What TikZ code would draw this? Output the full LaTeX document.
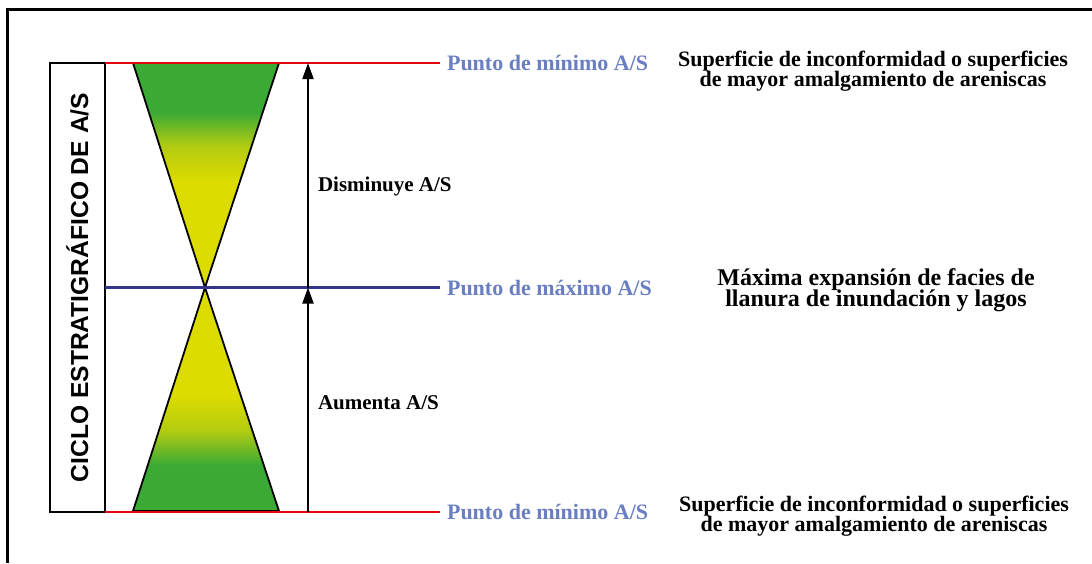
\documentclass[tikz,border=0pt]{standalone}
\usepackage{fontspec}
\setmainfont{Liberation Serif}
\setsansfont{Liberation Sans}
\usetikzlibrary{arrows.meta}
\definecolor{verde}{HTML}{3AAA35}
\definecolor{amarillo}{HTML}{DCDC00}
\definecolor{oliva}{HTML}{B5CC10}
\definecolor{rojo}{HTML}{E30613}
\definecolor{azul}{HTML}{35358A}
\definecolor{lila}{HTML}{6A7EC2}
\newcommand{\apretado}{\lineskiplimit=-20pt\relax}
\tikzset{
  marco/.style={line width=1.5pt},
  nivelmin/.style={rojo, line width=1.4pt},
  nivelmax/.style={azul, line width=1.1pt},
  abanico/.style={draw=black, line width=0.9pt},
  flecha/.style={line width=1pt, -{Triangle[length=8pt,width=5.5pt]}},
  punto/.style={lila, font=\bfseries\fontsize{11}{12}\selectfont, anchor=west},
  tramo/.style={font=\bfseries\fontsize{10.5}{12}\selectfont, anchor=west},
  nota/.style={font=\bfseries\fontsize{11}{10}\selectfont\apretado, align=center}
}
\begin{document}
\begin{tikzpicture}[x=0.5pt,y=-0.5pt]
\useasboundingbox (0,0) rectangle (1092,563);
\draw[marco] (7,563) -- (7,9) -- (1092,9);
\node[draw, line width=1.2pt, rotate=90, minimum width=224.5pt, minimum height=27.5pt, inner sep=0pt, outer sep=0pt, font=\sffamily\bfseries\fontsize{12.3}{14}\selectfont] (titulo) at (77.5,287.5) {CICLO ESTRATIGRÁFICO DE A/S};
\coordinate (cruce) at (205,287.5);
\begin{scope}
\clip (133,63) -- (279,63) -- (cruce) -- cycle;
\fill[verde] (130,60) rectangle (282,112);
\shade[top color=verde, bottom color=amarillo, middle color=oliva] (130,112) rectangle (282,182);
\fill[amarillo] (130,182) rectangle (282,290);
\end{scope}
\begin{scope}
\clip (cruce) -- (279,511) -- (133,511) -- cycle;
\fill[amarillo] (130,285) rectangle (282,395);
\shade[top color=amarillo, bottom color=verde, middle color=oliva] (130,395) rectangle (282,465);
\fill[verde] (130,465) rectangle (282,514);
\end{scope}
\draw[abanico] (133,63) -- (279,63) -- (cruce) -- cycle;
\draw[abanico] (cruce) -- (279,511) -- (133,511) -- cycle;
\node[punto] (minA) at (440,63) {Punto de mínimo A/S};
\node[punto] (maxA) at (440,287.5) {Punto de máximo A/S};
\node[punto] (minB) at (440,512) {Punto de mínimo A/S};
\draw[nivelmin] (titulo.south east) -- (minA.west);
\draw[nivelmax] (titulo.south) -- (maxA.west);
\draw[nivelmin] (titulo.south west) -- (minB.west);
\coordinate (baseB) at (308,512);
\coordinate (medio) at (308,287.5);
\coordinate (cima) at (308,63);
\draw[flecha] (baseB) -- (medio);
\draw[flecha] (medio) -- (cima);
\node[tramo] (baja) at (311,186) {Disminuye A/S};
\node[tramo] (sube) at (311,403) {Aumenta A/S};
\node[nota] (notaA) at (873,71) {Superficie de inconformidad o superficies\\de mayor amalgamiento de areniscas};
\node[nota, font=\bfseries\fontsize{12}{10.5}\selectfont\apretado] (notaM) at (876,290) {Máxima expansión de facies de\\llanura de inundación y lagos};
\node[nota] (notaB) at (874,516) {Superficie de inconformidad o superficies\\de mayor amalgamiento de areniscas};
\end{tikzpicture}
\end{document}
